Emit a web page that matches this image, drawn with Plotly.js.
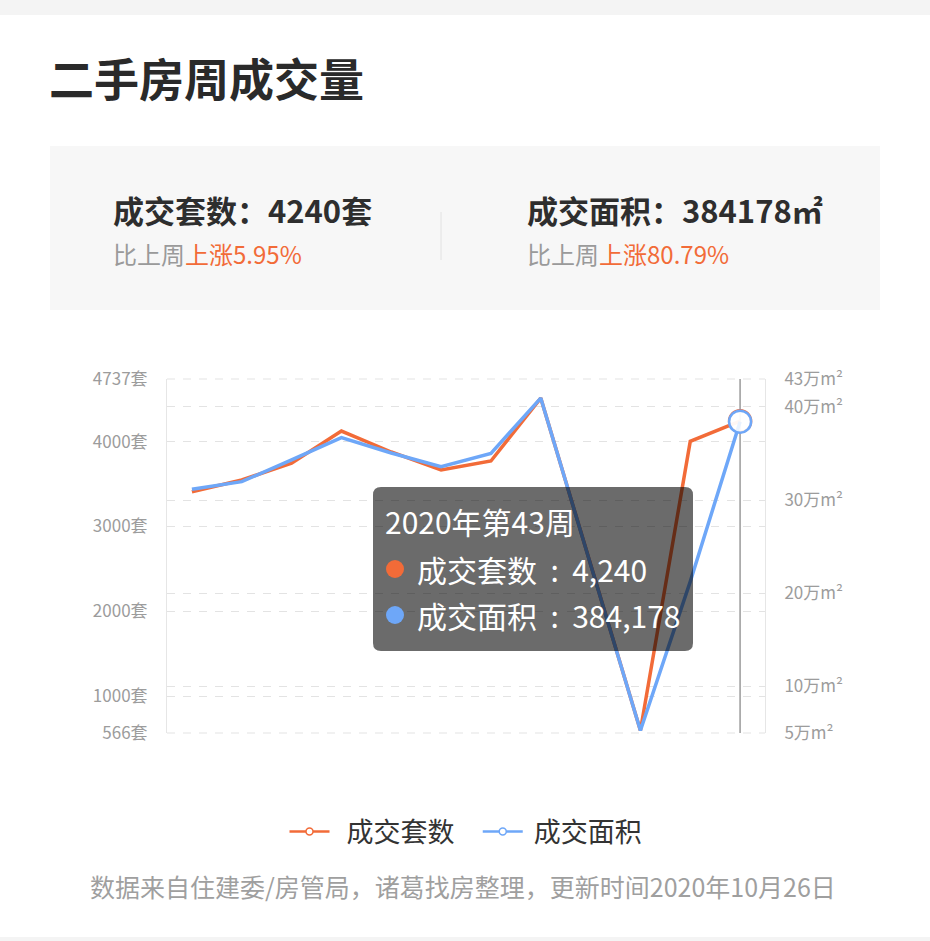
<!DOCTYPE html>
<html><head><meta charset="utf-8">
<script src="https://cdn.plot.ly/plotly-3.0.1.min.js"></script>
<style>html,body{margin:0;padding:0;background:#fff;overflow:hidden}#chart{width:930px;height:941px;}</style>
</head><body><div id="chart"></div>
<script>
// ---- data ----
const weeks = ['2020年第32周','2020年第33周','2020年第34周','2020年第35周','2020年第36周','2020年第37周',
               '2020年第38周','2020年第39周','2020年第40周','2020年第41周','2020年第42周','2020年第43周'];
const unitsSold = [3409, 3547, 3744, 4124, 3877, 3665, 3771, 4512, 2554, 596, 4002, 4240];
const areaSold  = [311600, 319800, 343100, 367000, 350600, 335900, 350200, 409500, 231000, 52700, 212499, 384178];
const leftTickVals  = [566, 1000, 2000, 3000, 4000, 4737];
const leftTickText  = ['566套', '1000套', '2000套', '3000套', '4000套', '4737套'];
const rightTickVals = [50000, 100000, 200000, 300000, 400000, 430000];
const rightTickText = ['5万m²', '10万m²', '20万m²', '30万m²', '40万m²', '43万m²'];
const seriesNames  = ['成交套数', '成交面积'];
const seriesColors = ['#f26b38', '#6ea7f8'];
const chartTitle = '二手房周成交量';
const sourceNote = '数据来自住建委/房管局，诸葛找房整理，更新时间2020年10月26日';

// ---- geometry helpers (page pixels -> paper coords) ----
const W = 930, H = 941, L = 167, R = 765, T = 379, B = 733;
const px = v => (v - L) / (R - L);
const py = v => (B - v) / (B - T);
const FONT = '"Noto Sans CJK SC", "Noto Sans", sans-serif';
const ORANGE_TXT = '#f26b38';
const NB = '\u00a0';

function roundRect(x0, y0, x1, y1, r) {
  const rx = r / (R - L), ry = r / (B - T);
  const a = px(x0), b = px(x1), top = py(y0), bot = py(y1);
  return `M${a+rx},${top} L${b-rx},${top} Q${b},${top} ${b},${top-ry} L${b},${bot+ry} Q${b},${bot} ${b-rx},${bot} ` +
         `L${a+rx},${bot} Q${a},${bot} ${a},${bot+ry} L${a},${top-ry} Q${a},${top} ${a+rx},${top} Z`;
}

const n = weeks.length, last = n - 1;
const unitChg = ((unitsSold[last] / unitsSold[last-1] - 1) * 100).toFixed(2);
const areaChg = ((areaSold[last] / areaSold[last-1] - 1) * 100).toFixed(2);
const fmt = v => v.toLocaleString('en-US');

const traces = [
  {x: weeks, y: unitsSold, yaxis: 'y', type: 'scatter', mode: 'lines', name: seriesNames[0],
   line: {color: seriesColors[0], width: 3.5}, showlegend: false, hoverinfo: 'skip'},
  {x: weeks, y: areaSold, yaxis: 'y2', type: 'scatter', mode: 'lines', name: seriesNames[1],
   line: {color: seriesColors[1], width: 3.5}, showlegend: false, hoverinfo: 'skip'},
  // highlighted (hovered) points
  {x: [weeks[last]], y: [unitsSold[last]], yaxis: 'y', type: 'scatter', mode: 'markers', showlegend: false,
   marker: {size: 22, color: 'rgba(255,255,255,0.6)', line: {color: seriesColors[0], width: 2.5}}},
  {x: [weeks[last]], y: [areaSold[last]], yaxis: 'y2', type: 'scatter', mode: 'markers', showlegend: false,
   marker: {size: 22, color: 'rgba(255,255,255,0.85)', line: {color: seriesColors[1], width: 2.5}}},
  // legend entries
  {x: [null], y: [null], type: 'scatter', mode: 'lines+markers', name: NB + NB + seriesNames[0] + NB + NB + NB,
   line: {color: seriesColors[0], width: 2.5}, marker: {size: 7, color: '#fff', line: {color: seriesColors[0], width: 1.5}}},
  {x: [null], y: [null], type: 'scatter', mode: 'lines+markers', name: NB + seriesNames[1],
   line: {color: seriesColors[1], width: 2.5}, marker: {size: 7, color: '#fff', line: {color: seriesColors[1], width: 1.5}}}
];

const shapes = [
  {type: 'rect', xref: 'paper', yref: 'paper', x0: px(0), x1: px(W), y0: py(0), y1: py(15), fillcolor: '#f4f4f4', line: {width: 0}, layer: 'below'},
  {type: 'rect', xref: 'paper', yref: 'paper', x0: px(0), x1: px(W), y0: py(937), y1: py(941), fillcolor: '#f4f4f4', line: {width: 0}, layer: 'below'},
  {type: 'rect', xref: 'paper', yref: 'paper', x0: px(50), x1: px(880), y0: py(146), y1: py(310), fillcolor: '#f7f7f7', line: {width: 0}, layer: 'below'},
  {type: 'line', xref: 'paper', yref: 'paper', x0: px(441), x1: px(441), y0: py(212), y1: py(260), line: {color: '#e2e2e2', width: 1}},
  // dashed grid lines at the range ends (Plotly drops them at the plot edges)
  {type: 'line', xref: 'paper', yref: 'paper', x0: 0, x1: 1, y0: 1, y1: 1, line: {color: '#e3e3e3', width: 1, dash: '8px,8px'}, layer: 'below'},
  {type: 'line', xref: 'paper', yref: 'paper', x0: 0, x1: 1, y0: 0, y1: 0, line: {color: '#e3e3e3', width: 1, dash: '8px,8px'}, layer: 'below'},
  {type: 'line', xref: 'x', yref: 'paper', x0: last, x1: last, y0: 0, y1: 1, line: {color: '#9a9a9a', width: 1.5}, layer: 'below'},
  {type: 'path', xref: 'paper', yref: 'paper', path: roundRect(373, 487, 693, 651, 8), fillcolor: 'rgba(0,0,0,0.58)', line: {width: 0}, layer: 'above'},
  {type: 'circle', xref: 'paper', yref: 'paper', x0: px(386), x1: px(404), y0: py(560), y1: py(578), fillcolor: seriesColors[0], line: {width: 0}, layer: 'above'},
  {type: 'circle', xref: 'paper', yref: 'paper', x0: px(386), x1: px(404), y0: py(606), y1: py(624), fillcolor: seriesColors[1], line: {width: 0}, layer: 'above'}
];

const ann = (x, y, text, size, color, extra) => Object.assign({
  xref: 'paper', yref: 'paper', x: px(x), y: py(y), text: text, showarrow: false,
  xanchor: 'left', yanchor: 'middle', font: {family: FONT, size: size, color: color}
}, extra || {});

const annotations = [
  ann(47, 77, '<b>' + chartTitle + '</b>', 45, '#2a2a2a'),
  ann(111, 209, '<b>' + seriesNames[0] + '：' + unitsSold[last] + '套</b>', 31, '#2e2e2e'),
  ann(111, 253, '比上周<span style="color:' + ORANGE_TXT + '">上涨' + unitChg + '%</span>', 24, '#9a9a9a'),
  ann(525, 209, '<b>' + seriesNames[1] + '：' + areaSold[last] + '㎡</b>', 31, '#2e2e2e'),
  ann(525, 253, '比上周<span style="color:' + ORANGE_TXT + '">上涨' + areaChg + '%</span>', 24, '#9a9a9a'),
  ann(383, 521, weeks[last], 30, '#ffffff'),
  ann(415, 569, seriesNames[0] + NB + NB + ':' + NB + NB + fmt(unitsSold[last]), 30, '#ffffff'),
  ann(415, 615, seriesNames[1] + NB + NB + ':' + NB + NB + fmt(areaSold[last]), 30, '#ffffff'),
  ann(463, 886, sourceNote, 25, '#9f9f9f', {xanchor: 'center'})
];

const gridCommon = {showgrid: true, gridcolor: '#e3e3e3', gridwidth: 1, griddash: '8px,8px', zeroline: false,
  showline: true, linecolor: '#e6e6e6', linewidth: 1, ticks: '', ticklabelstandoff: 15,
  tickfont: {family: FONT, size: 17, color: '#9c9c9c'}, tickmode: 'array', fixedrange: true};

const layout = {
  width: W, height: H, autosize: false,
  margin: {l: L, r: W - R, t: T, b: H - B, pad: 0},
  paper_bgcolor: '#ffffff', plot_bgcolor: '#ffffff',
  showlegend: true,
  legend: {orientation: 'h', x: 0.5, xanchor: 'center', y: py(832), yanchor: 'middle',
           font: {family: FONT, size: 27, color: '#333333'}, itemwidth: 40, bgcolor: 'rgba(0,0,0,0)'},
  xaxis: {type: 'category', range: [-0.5, n - 0.5], showgrid: false, zeroline: false, showline: false,
          showticklabels: false, ticks: '', fixedrange: true},
  yaxis: Object.assign({}, gridCommon, {range: [566, 4737], tickvals: leftTickVals, ticktext: leftTickText, side: 'left'}),
  yaxis2: Object.assign({}, gridCommon, {range: [50000, 430000], tickvals: rightTickVals, ticktext: rightTickText,
          side: 'right', overlaying: 'y'}),
  shapes: shapes,
  annotations: annotations,
  hovermode: false
};

Plotly.newPlot('chart', traces, layout, {staticPlot: true, displayModeBar: false});
</script>
</body></html>
